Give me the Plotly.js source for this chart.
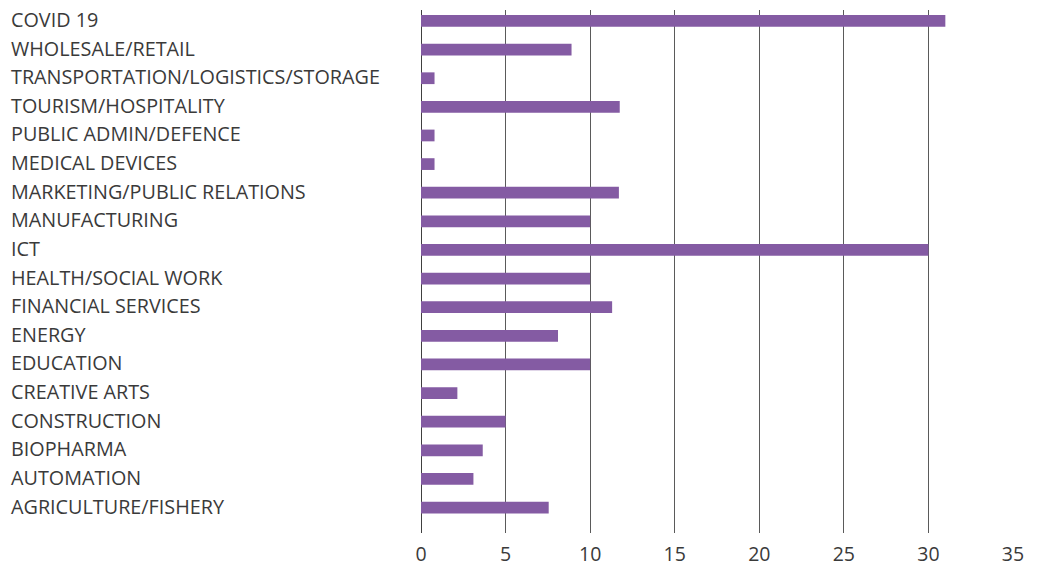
<!DOCTYPE html>
<html>
<head>
<meta charset="utf-8">
<script src="https://cdn.plot.ly/plotly-3.0.1.min.js"></script>
<style>html,body{margin:0;padding:0;background:#fff;}#chart{width:1038px;height:568px;}</style>
</head>
<body>
<div id="chart"></div>
<script>
const categories = [
  "COVID 19",
  "WHOLESALE/RETAIL",
  "TRANSPORTATION/LOGISTICS/STORAGE",
  "TOURISM/HOSPITALITY",
  "PUBLIC ADMIN/DEFENCE",
  "MEDICAL DEVICES",
  "MARKETING/PUBLIC RELATIONS",
  "MANUFACTURING",
  "ICT",
  "HEALTH/SOCIAL WORK",
  "FINANCIAL SERVICES",
  "ENERGY",
  "EDUCATION",
  "CREATIVE ARTS",
  "CONSTRUCTION",
  "BIOPHARMA",
  "AUTOMATION",
  "AGRICULTURE/FISHERY"
];
const values = [31.0, 8.9, 0.8, 11.75, 0.8, 0.8, 11.7, 10.0, 30.0, 10.0, 11.3, 8.1, 10.0, 2.15, 5.0, 3.65, 3.1, 7.55];
const xTickValues = [0, 5, 10, 15, 20, 25, 30, 35];

const fontFamily = '"Open Sans", "Noto Sans", sans-serif';
const textColor = '#3a3a3a';

const trace = {
  type: 'bar',
  orientation: 'h',
  x: values,
  y: categories,
  width: 0.41,
  marker: {color: '#845BA3'},
  hoverinfo: 'x+y'
};

const annotations = categories.map(c => ({
  text: c,
  xref: 'paper',
  x: -421/592 + 9/592,
  xanchor: 'left',
  yref: 'y',
  y: c,
  yanchor: 'middle',
  yshift: 1.5,
  showarrow: false,
  font: {family: fontFamily, size: 19.8, color: textColor}
}));

const layout = {
  width: 1038,
  height: 568,
  margin: {l: 421, r: 25, t: 10, b: 35},
  paper_bgcolor: '#ffffff',
  plot_bgcolor: '#ffffff',
  showlegend: false,
  xaxis: {
    range: [0, 35],
    tickvals: xTickValues,
    ticktext: xTickValues.map(String),
    showgrid: true,
    gridcolor: '#5a5a5a',
    gridwidth: 1,
    zeroline: true,
    zerolinecolor: '#404040',
    zerolinewidth: 1,
    showline: false,
    ticks: '',
    ticklabelstandoff: 7,
    tickfont: {family: fontFamily, size: 19.5, color: textColor}
  },
  yaxis: {
    type: 'category',
    categoryorder: 'array',
    categoryarray: categories,
    range: [17.89, -0.384],
    showticklabels: false,
    showgrid: false,
    zeroline: false,
    ticks: ''
  },
  annotations: annotations
};

Plotly.newPlot('chart', [trace], layout, {displayModeBar: false, staticPlot: true});
</script>
</body>
</html>
